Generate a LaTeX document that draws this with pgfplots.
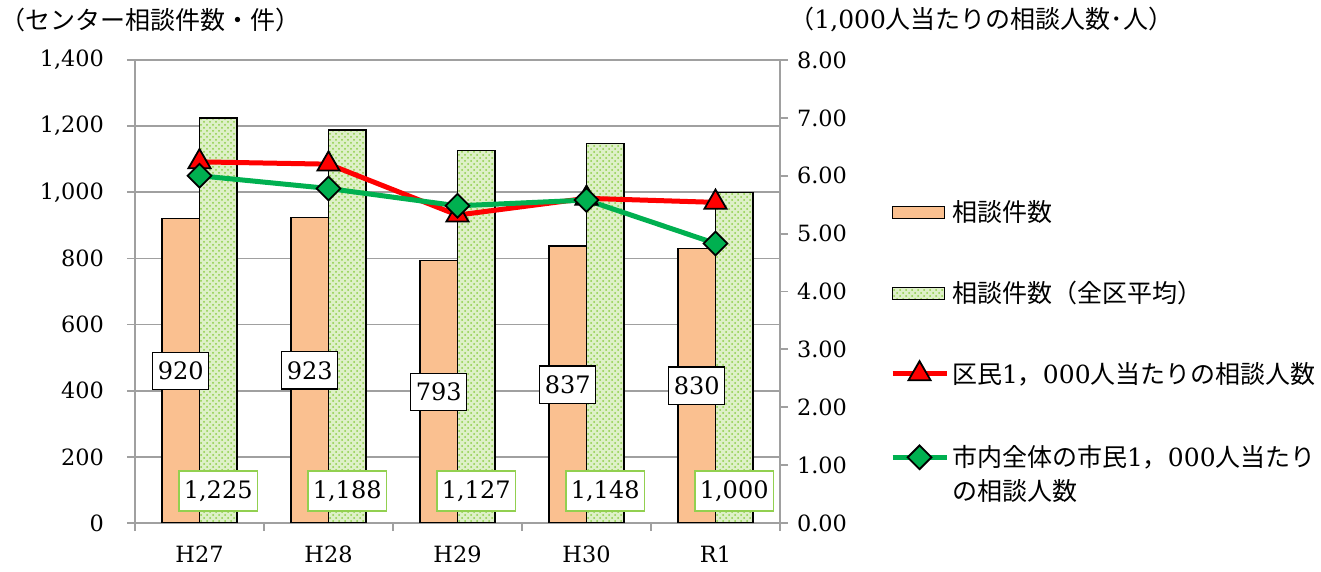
\documentclass[border=0pt]{standalone}
\usepackage{fontspec}
\setmainfont{DejaVu Serif}
\usepackage{pgfplots}
\usepackage{pgfplotstable}
\pgfplotsset{compat=1.18}
\usetikzlibrary{patterns}
\newfontfamily\cjk{Noto Sans CJK JP}
\definecolor{barorange}{RGB}{250,192,144}
\definecolor{bargreenfill}{RGB}{222,240,200}
\definecolor{dotgreen}{RGB}{140,205,70}
\definecolor{linered}{RGB}{255,0,0}
\definecolor{linegreen}{RGB}{0,176,80}
\definecolor{gridgray}{RGB}{160,160,160}
\definecolor{labelgreen}{RGB}{146,208,80}

\pgfplotsset{
  mylineleg/.style={legend image code/.code={\draw[mark repeat=2,mark phase=2,##1] plot coordinates {(0pt,4.7pt) (13.5pt,4.7pt) (27pt,4.7pt)};}},
  orangeleg/.style={legend image code/.code={\draw[draw=black,line width=0.8pt,fill=barorange] (0pt,1.7pt) rectangle (26pt,7.7pt);}},
  greenleg/.style={legend image code/.code={\draw[draw=black,line width=0.8pt,fill=bargreenfill,postaction={pattern=crosshatch dots,pattern color=dotgreen}] (0pt,1.7pt) rectangle (26pt,7.7pt);}},
}

\pgfplotstableread{
x cnt avg red grn
0 920 1225 6.24 6.00
1 923 1188 6.20 5.78
2 793 1127 5.32 5.48
3 837 1148 5.61 5.58
4 830 1000 5.54 4.83
}\datatable

\begin{document}
\begin{tikzpicture}
\pgfplotsset{
  common/.style={
    scale only axis, width=322.5pt, height=231.5pt,
    xmin=-0.5, xmax=4.5,
    /pgf/number format/assume math mode=true,
    tick label style={font=\fontsize{11.2}{14}\selectfont},
    axis line style={gridgray, line width=0.9pt},
    tick align=outside,
    major tick length=4pt,
    tick style={gridgray, line width=0.9pt},
  }
}
\begin{axis}[common,
  ymin=0, ymax=1400, ytick={0,200,...,1400},
  ymajorgrids, grid style={gridgray, line width=0.9pt},
  ytick pos=left, xtick pos=bottom,
  xtick={0,...,4}, xticklabels={H27,H28,H29,H30,R1},
  major x tick style={draw=none},
  minor xtick={-0.5,0.5,...,4.5},
  minor tick length=4pt,
  minor x tick style={gridgray, line width=0.9pt},
  xticklabel style={yshift=-4pt},
  yticklabel style={xshift=-8pt},
  ybar=0pt, bar width=0.29,
]
\addplot[draw=black, line width=0.75pt, fill=barorange,
  nodes near coords, visualization depends on=rawy \as \rawy,
  every node near coord/.append style={anchor=center, yshift={-0.0826786*\rawy}, draw=black, fill=white, line width=0.6pt, font=\fontsize{12}{14}\selectfont, inner xsep=2.5pt, inner ysep=4.8pt, text=black}]
  table[x=x,y=cnt]{\datatable};
\addplot[draw=black, line width=0.75pt, fill=bargreenfill, postaction={pattern=crosshatch dots, pattern color=dotgreen},
  nodes near coords, visualization depends on=rawy \as \rawy,
  every node near coord/.append style={anchor=center, yshift={-0.165357*(\rawy-97)}, draw=labelgreen, fill=white, line width=0.9pt, font=\fontsize{12}{14}\selectfont, inner xsep=2.5pt, inner ysep=4.8pt, text=black}]
  table[x=x,y=avg]{\datatable};
\end{axis}
\begin{axis}[common,
  ymin=0, ymax=8, ytick={0,1,...,8},
  axis x line=none, axis y line*=right,
  yticklabel style={/pgf/number format/.cd, fixed, fixed zerofill, precision=2, /tikz/.cd, xshift=1pt},
  legend style={draw=none, fill=none, at={(1.17,0.7035)}, anchor=north west,
    font=\cjk\fontsize{12.5}{17}\selectfont, row sep=25.3pt, inner sep=0pt,
    nodes={inner sep=1.5pt}},
  legend cell align=left,
  legend style={nodes={anchor=base west}},
]
\addlegendimage{orangeleg}
\addlegendentry{相談件数}
\addlegendimage{greenleg}
\addlegendentry{相談件数（全区平均）}
\addplot[linered, line width=2.5pt, mark=triangle*, mark size=6.4pt,
  mark options={fill=linered, draw=black, line width=0.9pt}, mylineleg]
  table[x=x,y=red]{\datatable};
\addlegendentry{区民{\rmfamily 1}，{\rmfamily 000}人当たりの相談人数}
\addplot[linegreen, line width=2.5pt, mark=square*, mark size=4.2pt,
  mark options={fill=linegreen, draw=black, line width=0.9pt, rotate=45}, mylineleg]
  table[x=x,y=grn]{\datatable};
\addlegendentry{\begin{tabular}[t]{@{}l@{}}市内全体の市民{\rmfamily 1}，{\rmfamily 000}人当たり\\の相談人数\end{tabular}}
\end{axis}
\node[anchor=west, inner sep=0pt, font=\cjk\fontsize{12.5}{15}\selectfont] at (-67.5pt,251.5pt) {（センター相談件数・件）};
\node[anchor=west, inner sep=0pt, font=\cjk\fontsize{12.5}{15}\selectfont] at (327pt,251.5pt) {（{\rmfamily 1,000}人当たりの相談人数･人）};
\pgfresetboundingbox
\path[use as bounding box] (-67.5pt,-24.5pt) rectangle (593pt,261.5pt);
\end{tikzpicture}
\end{document}
